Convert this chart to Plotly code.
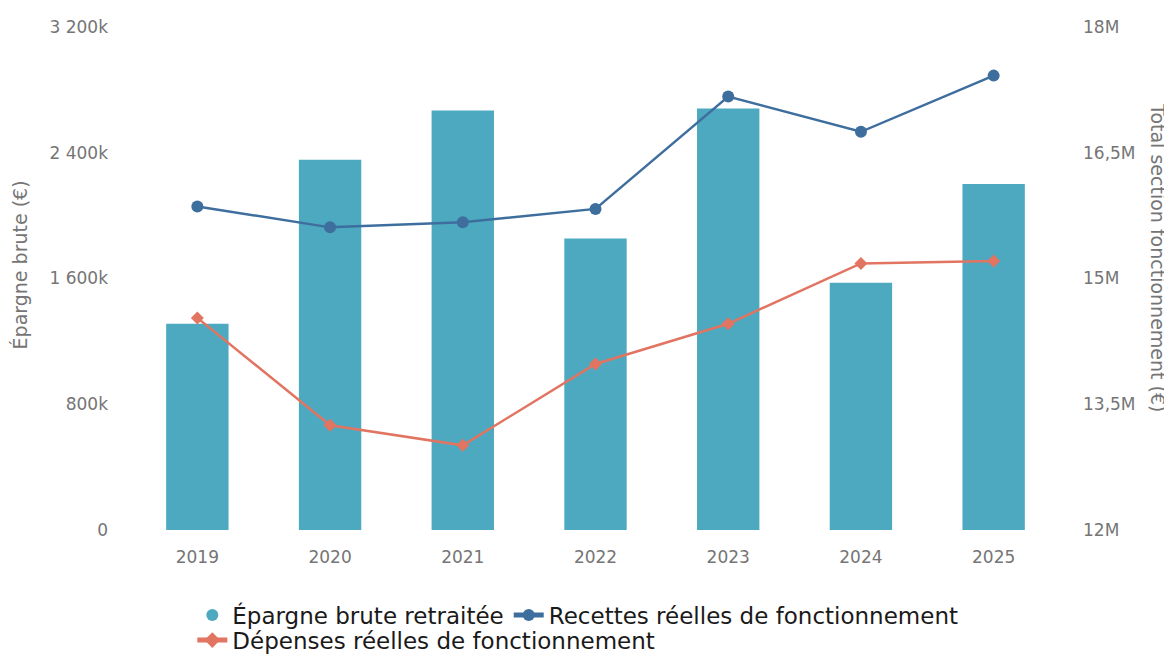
import plotly.graph_objects as go

years = ["2019", "2020", "2021", "2022", "2023", "2024", "2025"]
epargne = [1312000, 2355000, 2668000, 1855000, 2682000, 1573000, 2201000]
recettes = [15860000, 15610000, 15670000, 15830000, 17170000, 16750000, 17420000]
depenses = [14530000, 13250000, 13010000, 13980000, 14460000, 15180000, 15210000]

left_ticks = [0, 800000, 1600000, 2400000, 3200000]
left_labels = ["0", "800k", "1 600k", "2 400k", "3 200k"]
right_ticks = [12000000, 13500000, 15000000, 16500000, 18000000]
right_labels = ["12M", "13,5M", "15M", "16,5M", "18M"]

BAR = "#4DA9BF"
BLUE = "#3E6E9E"
RED = "#E27462"
TICK = "#757575"
FONT = "DejaVu Sans"

fig = go.Figure()
fig.add_trace(go.Bar(x=years, y=epargne, name="Épargne brute retraitée",
                     marker=dict(color=BAR, line=dict(width=0)), width=0.47,
                     showlegend=False, yaxis="y"))
# legend entry with round symbol for the bars
fig.add_trace(go.Scatter(x=[None], y=[None], mode="markers", name="Épargne brute retraitée",
                         marker=dict(color=BAR, size=18, symbol="circle"), yaxis="y",
                         legend="legend"))
fig.add_trace(go.Scatter(x=years, y=recettes, name="Recettes réelles de fonctionnement",
                         mode="lines+markers", line=dict(color=BLUE, width=2.5),
                         marker=dict(color=BLUE, size=12, symbol="circle"), yaxis="y2",
                         legend="legend"))
fig.add_trace(go.Scatter(x=years, y=depenses, name="Dépenses réelles de fonctionnement",
                         mode="lines+markers", line=dict(color=RED, width=2.5),
                         marker=dict(color=RED, size=10, symbol="diamond"), yaxis="y2",
                         legend="legend2"))

legend_font = dict(family="DejaVu Sans", size=23, color="#1a1a1a")

fig.update_layout(
    width=1164, height=648,
    margin=dict(l=123, r=112, t=19, b=126, autoexpand=False),
    paper_bgcolor="white", plot_bgcolor="white",
    font=dict(family=FONT, color=TICK),
    xaxis=dict(type="category", showgrid=False, showline=False, zeroline=False,
               tickfont=dict(size=17, color=TICK), ticks="", ticklabelstandoff=15,
               automargin=False),
    yaxis=dict(range=[0, 3200000], tickvals=left_ticks, ticktext=left_labels,
               showgrid=False, zeroline=False, showline=False, automargin=False,
               tickfont=dict(size=17, color=TICK), ticklabelstandoff=22),
    yaxis2=dict(range=[12000000, 18000000], tickvals=right_ticks, ticktext=right_labels,
                overlaying="y", side="right", showgrid=False, zeroline=False, showline=False,
                automargin=False,
                tickfont=dict(size=17, color=TICK), ticklabelstandoff=22),
    legend=dict(orientation="h", x=0.066, xanchor="left", y=-0.169, yanchor="middle",
                font=legend_font, itemsizing="constant", traceorder="normal",
                bgcolor="rgba(0,0,0,0)"),
    legend2=dict(orientation="h", x=0.066, xanchor="left", y=-0.219, yanchor="middle",
                 font=legend_font, itemsizing="constant",
                 bgcolor="rgba(0,0,0,0)"),
    annotations=[
        dict(text="Épargne brute (€)", xref="paper", yref="paper", x=-0.12, y=0.527,
             showarrow=False, textangle=-90, font=dict(size=19, color=TICK),
             xanchor="center", yanchor="middle"),
        dict(text="Total section fonctionnement (€)", xref="paper", yref="paper",
             x=1.1055, y=0.5427, showarrow=False, textangle=90,
             font=dict(size=19, color=TICK), xanchor="center", yanchor="middle"),
    ],
)

fig.write_html("out.html")
